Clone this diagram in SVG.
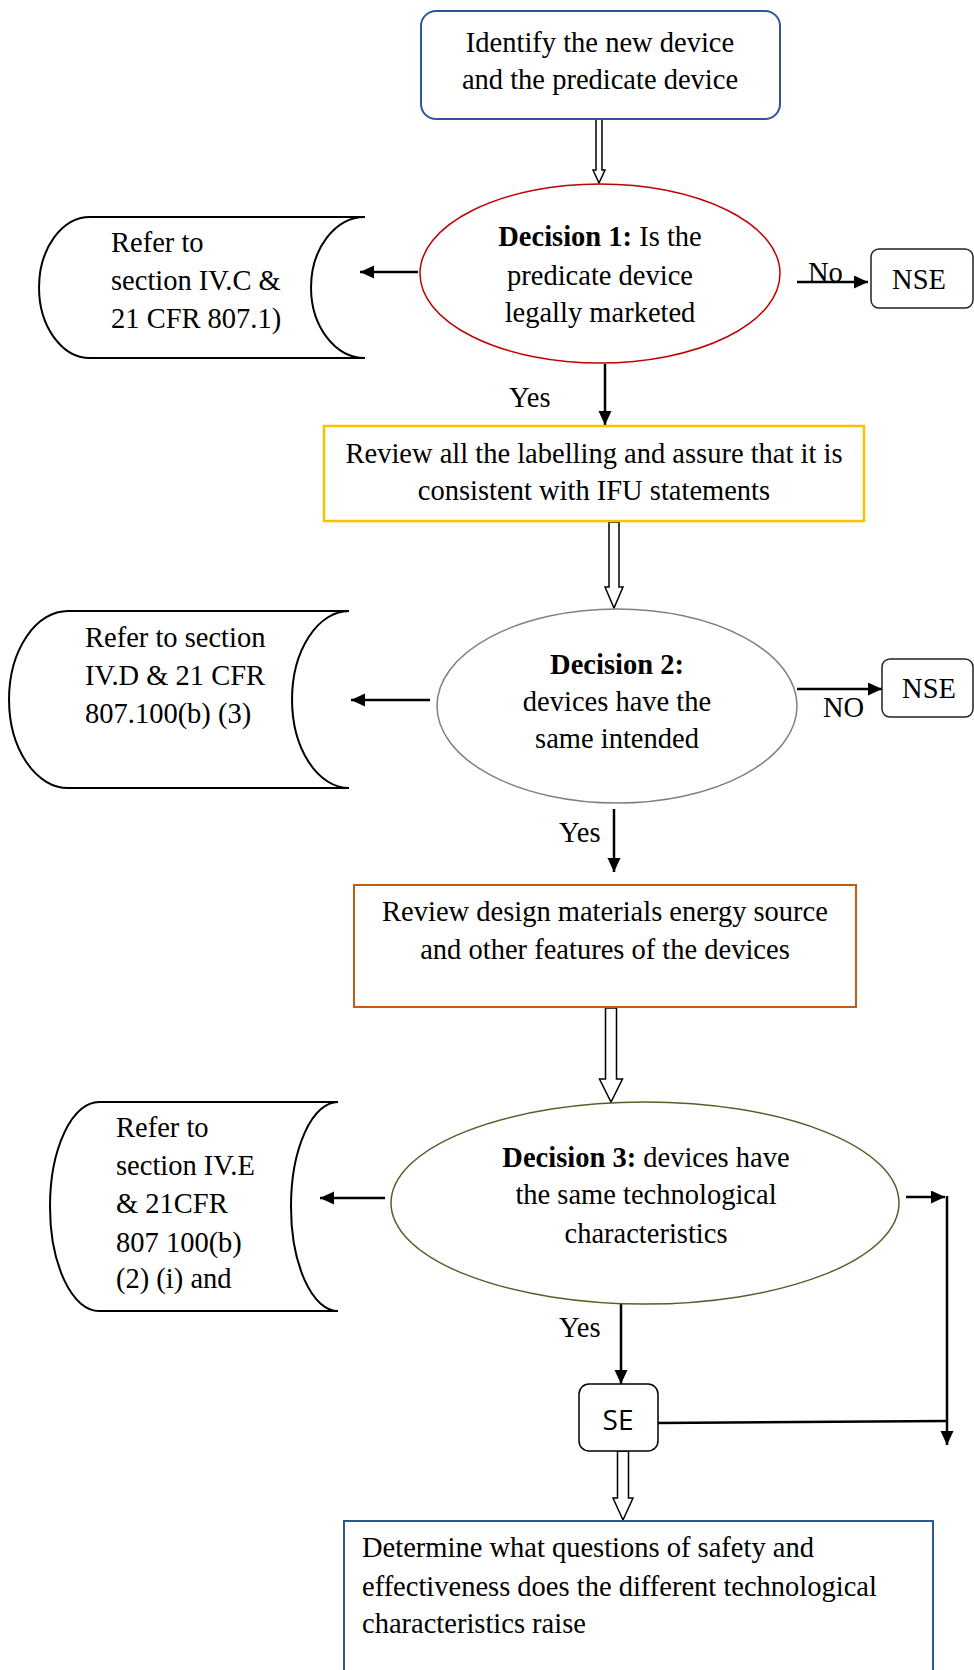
<svg xmlns="http://www.w3.org/2000/svg" width="974" height="1670" viewBox="0 0 974 1670">
<style>
text{font-family:"Liberation Serif","Times New Roman",serif;font-size:28.5px;fill:#000}
.c{text-anchor:middle}
.b{font-weight:bold}
.se{font-family:"Open Sans","Liberation Sans",sans-serif;font-size:28px}
.doc{fill:#fff;stroke:#000;stroke-width:2}
.term{fill:#fff;stroke:#222;stroke-width:1.5}
.ln{fill:none;stroke:#000;stroke-width:2.5}
.hol{fill:#fff;stroke:#000;stroke-width:1.5;stroke-linejoin:miter}
</style>
<defs>
<marker id="ah" markerUnits="userSpaceOnUse" markerWidth="16" markerHeight="14" refX="14" refY="6.5" orient="auto">
<path d="M0,0 L14,6.5 L0,13 Z" fill="#000"/>
</marker>
</defs>
<rect width="974" height="1670" fill="#fff"/>

<g id="connectors">
<polygon class="hol" points="596,119 602,119 602,170 605,170 599,183 593,170 596,170"/>
<polygon class="hol" points="609,522 619,522 619,587 623,587 614,608 605,587 609,587"/>
<polygon class="hol" points="605.5,1008 616.5,1008 616.5,1079 622.5,1079 611,1102 599.5,1079 605.5,1079"/>
<polygon class="hol" points="617.5,1451 628.5,1451 628.5,1498 633,1498 623,1520 613,1498 617.5,1498"/>
<line class="ln" x1="418" y1="272" x2="360" y2="272" marker-end="url(#ah)"/>
<line class="ln" x1="797" y1="282" x2="868" y2="282" marker-end="url(#ah)"/>
<line class="ln" x1="605" y1="364" x2="605" y2="425" marker-end="url(#ah)"/>
<line class="ln" x1="430" y1="700" x2="351" y2="700" marker-end="url(#ah)"/>
<line class="ln" x1="797" y1="689" x2="882" y2="689" marker-end="url(#ah)"/>
<line class="ln" x1="614" y1="809" x2="614" y2="872" marker-end="url(#ah)"/>
<line class="ln" x1="385" y1="1198" x2="320" y2="1198" marker-end="url(#ah)"/>
<line class="ln" x1="906" y1="1197" x2="945" y2="1197" marker-end="url(#ah)"/>
<line class="ln" x1="947" y1="1196" x2="947" y2="1445" marker-end="url(#ah)"/>
<line class="ln" x1="658" y1="1423" x2="947" y2="1421"/>
<line class="ln" x1="621" y1="1304" x2="621" y2="1384" marker-end="url(#ah)"/>
<text x="808" y="282">No</text>
<text x="509" y="407">Yes</text>
<text x="823" y="717">NO</text>
<text x="559" y="842">Yes</text>
<text x="559" y="1337">Yes</text>
</g>

<g id="start">
<rect x="421" y="11" width="359" height="108" rx="15" fill="#fff" stroke="#2F5597" stroke-width="2"/>
<text class="c" x="600" y="52">Identify the new device</text>
<text class="c" x="600" y="89">and the predicate device</text>
</g>

<g id="decision1">
<ellipse cx="600" cy="273.5" rx="180" ry="89.5" fill="#fff" stroke="#C00000" stroke-width="1.5"/>
<text class="c" x="600" y="246"><tspan class="b">Decision 1:</tspan> Is the</text>
<text class="c" x="600" y="285">predicate device</text>
<text class="c" x="600" y="322">legally marketed</text>
</g>

<g id="ref1">
<path class="doc" d="M90,217 L365,217 A54 70.5 0 0 0 365,358 L90,358 A51 70.5 0 0 1 90,217 Z"/>
<text x="111" y="252">Refer to</text>
<text x="111" y="290">section IV.C &amp;</text>
<text x="111" y="328">21 CFR 807.1)</text>
</g>

<g id="nse1">
<rect class="term" x="871" y="249" width="102" height="59" rx="8"/>
<text class="c" x="919" y="289">NSE</text>
</g>

<g id="review1">
<rect x="324" y="426" width="540" height="95" fill="#fff" stroke="#FFC000" stroke-width="2.5"/>
<text class="c" x="594" y="463">Review all the labelling and assure that it is</text>
<text class="c" x="594" y="500">consistent with IFU statements</text>
</g>

<g id="decision2">
<ellipse cx="617" cy="706" rx="180" ry="97" fill="#fff" stroke="#808080" stroke-width="1.5"/>
<text class="c b" x="617" y="674">Decision 2:</text>
<text class="c" x="617" y="711">devices have the</text>
<text class="c" x="617" y="748">same intended</text>
</g>

<g id="ref2">
<path class="doc" d="M68,611 L349,611 A57 88.5 0 0 0 349,788 L68,788 A59 88.5 0 0 1 68,611 Z"/>
<text x="85" y="647">Refer to section</text>
<text x="85" y="685">IV.D &amp; 21 CFR</text>
<text x="85" y="723">807.100(b) (3)</text>
</g>

<g id="nse2">
<rect class="term" x="882" y="659" width="91" height="58" rx="8"/>
<text class="c" x="929" y="698">NSE</text>
</g>

<g id="review2">
<rect x="354" y="885" width="502" height="122" fill="#fff" stroke="#C55A11" stroke-width="2"/>
<text class="c" x="605" y="921">Review design materials energy source</text>
<text class="c" x="605" y="959">and other features of the devices</text>
</g>

<g id="decision3">
<ellipse cx="645" cy="1203" rx="254" ry="101" fill="#fff" stroke="#4F6228" stroke-width="1.5"/>
<text class="c" x="646" y="1167"><tspan class="b">Decision 3:</tspan> devices have</text>
<text class="c" x="646" y="1204">the same technological</text>
<text class="c" x="646" y="1243">characteristics</text>
</g>

<g id="ref3">
<path class="doc" d="M99,1102 L338,1102 A47 104.5 0 0 0 338,1311 L99,1311 A49 104.5 0 0 1 99,1102 Z"/>
<text x="116" y="1137">Refer to</text>
<text x="116" y="1175">section IV.E</text>
<text x="116" y="1213">&amp; 21CFR</text>
<text x="116" y="1252">807 100(b)</text>
<text x="116" y="1288">(2) (i) and</text>
</g>

<g id="se">
<rect x="579" y="1384" width="79" height="67" rx="10" fill="#fff" stroke="#000" stroke-width="1.5"/>
<text class="c se" x="618" y="1430">SE</text>
</g>

<g id="determine">
<rect x="344" y="1521" width="589" height="170" fill="#fff" stroke="#2F5597" stroke-width="2"/>
<text x="362" y="1557">Determine what questions of safety and</text>
<text x="362" y="1596">effectiveness does the different technological</text>
<text x="362" y="1633">characteristics raise</text>
</g>
</svg>
